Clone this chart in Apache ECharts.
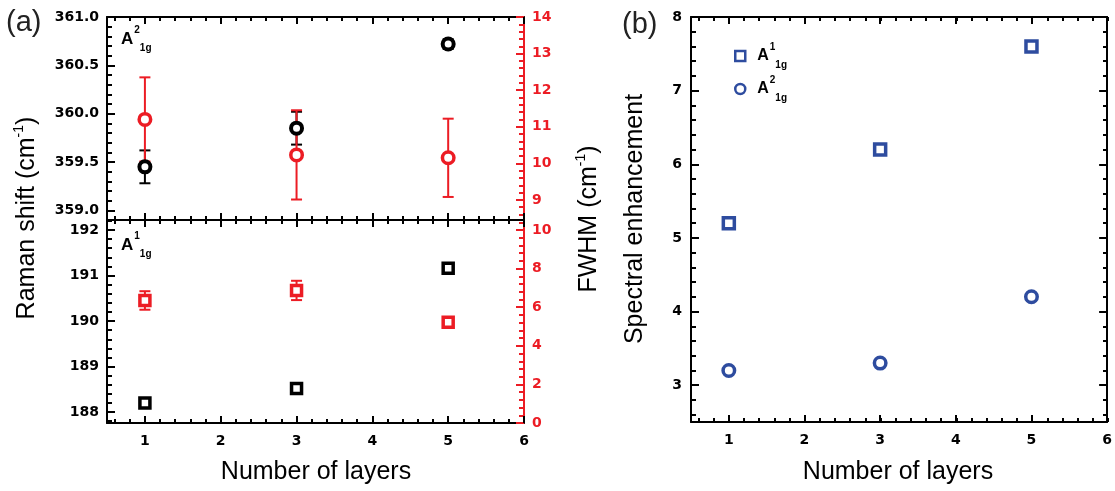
<!DOCTYPE html>
<html>
<head>
<meta charset="utf-8">
<script src="https://cdn.jsdelivr.net/npm/echarts@6/dist/echarts.min.js"></script>
<style>
html, body { margin: 0; padding: 0; background: #fff; }
#main { width: 1115px; height: 491px; }
</style>
</head>
<body>
<div id="main"></div>
<script>
// datos
var layers = [1, 3, 5];
var ramanA2g = [359.45, 359.85, 360.72];
var ramanA2gErr = [0.17, 0.17, 0.05];
var fwhmA2g = [11.2, 10.23, 10.15];
var fwhmA2gErr = [1.15, 1.22, 1.07];
var ramanA1g = [188.2, 188.52, 191.16];
var ramanA1gErr = [0.07, 0.08, 0.05];
var fwhmA1g = [6.35, 6.87, 5.22];
var fwhmA1gErr = [0.48, 0.5, 0.1];
var enhA1g = [5.2, 6.2, 7.6];
var enhA2g = [3.2, 3.3, 4.2];

// ticks
var xTicks = [1, 2, 3, 4, 5, 6];
var ramanTopTicks = [359.0, 359.5, 360.0, 360.5, 361.0];
var fwhmTopTicks = [9, 10, 11, 12, 13, 14];
var ramanBotTicks = [188, 189, 190, 191, 192];
var fwhmBotTicks = [0, 2, 4, 6, 8, 10];
var enhTicks = [3, 4, 5, 6, 7, 8];

var FONT = 'Liberation Sans';
var TICKFONT = 'DejaVu Sans';
var RED = '#ec1c24';
var BLUE = '#2e4c9f';

function minors(min, max, step) { // posiciones de ticks menores
    var out = [];
    var n0 = Math.ceil(min / step - 1e-9), n1 = Math.floor(max / step + 1e-9);
    for (var i = n0; i <= n1; i++) out.push(+(i * step).toFixed(4));
    return out;
}

function axis(grid, pos, min, max, ticks, opt) {
    opt = opt || {};
    var color = opt.color || '#000';
    return {
        type: 'value', gridIndex: grid, position: pos, min: min, max: max,
        splitLine: { show: false },
        axisLine: { show: opt.line !== false, onZero: false, lineStyle: { color: color, width: 2 } },
        axisTick: { show: true, inside: true, customValues: ticks, length: opt.len || 7, lineStyle: { color: color, width: 2 } },
        axisLabel: opt.labels ? {
            show: true, customValues: ticks, margin: opt.margin || 8,
            color: color, fontFamily: TICKFONT, fontWeight: 'bold', fontSize: 14,
            formatter: opt.fmt || function (v) { return String(Math.round(v)); }
        } : { show: false }
    };
}

var xAxes = [], yAxes = [];
function addX(a) { xAxes.push(a); return xAxes.length - 1; }
function addY(a) { yAxes.push(a); return yAxes.length - 1; }

var grids = [
    { left: 107, top: 17, width: 417, height: 203 },
    { left: 107, top: 17, width: 417, height: 203 },
    { left: 107, top: 220, width: 417, height: 203 },
    { left: 107, top: 220, width: 417, height: 203 },
    { left: 691, top: 17, width: 417, height: 405 },
    { left: 691, top: 17, width: 417, height: 405 }
];

// panel (a) arriba
var xTop = addX(axis(0, 'bottom', 0.5, 6, xTicks, { len: 7 }));
addX(axis(0, 'top', 0.5, 6, xTicks, { len: 7 }));
var yRamanTop = addY(axis(0, 'left', 358.9, 361, ramanTopTicks, { len: 8, labels: true, fmt: function (v) { return v.toFixed(1); } }));
var yFwhmTop = addY(axis(0, 'right', 8.45, 14, fwhmTopTicks, { len: 8, labels: true, color: RED }));
addX(axis(1, 'bottom', 0.5, 6, minors(0.5, 6, 0.2), { len: 4, line: false }));
addX(axis(1, 'top', 0.5, 6, minors(0.5, 6, 0.2), { len: 4, line: false }));
addY(axis(1, 'left', 358.9, 361, minors(358.9, 361, 0.1), { len: 5, line: false }));
addY(axis(1, 'right', 8.45, 14, minors(8.45, 14, 0.2), { len: 5, line: false, color: RED }));

// panel (a) abajo
var xBot = addX(axis(2, 'bottom', 0.5, 6, xTicks, { len: 7, labels: true, margin: 11 }));
addX(axis(2, 'top', 0.5, 6, xTicks, { len: 7 }));
var yRamanBot = addY(axis(2, 'left', 187.76, 192.22, ramanBotTicks, { len: 8, labels: true }));
var yFwhmBot = addY(axis(2, 'right', 0, 10.52, fwhmBotTicks, { len: 8, labels: true, color: RED }));
addX(axis(3, 'bottom', 0.5, 6, minors(0.5, 6, 0.2), { len: 4, line: false }));
addX(axis(3, 'top', 0.5, 6, minors(0.5, 6, 0.2), { len: 4, line: false }));
addY(axis(3, 'left', 187.76, 192.22, minors(187.76, 192.22, 0.2), { len: 5, line: false }));
addY(axis(3, 'right', 0, 10.52, minors(0, 10.52, 0.4), { len: 5, line: false, color: RED }));

// panel (b)
var xB = addX(axis(4, 'bottom', 0.5, 6, xTicks, { len: 7, labels: true, margin: 11 }));
addX(axis(4, 'top', 0.5, 6, xTicks, { len: 7 }));
var yB = addY(axis(4, 'left', 2.5, 8, enhTicks, { len: 8, labels: true, margin: 9 }));
addY(axis(4, 'right', 2.5, 8, enhTicks, { len: 8 }));
addX(axis(5, 'bottom', 0.5, 6, minors(0.5, 6, 0.2), { len: 4, line: false }));
addX(axis(5, 'top', 0.5, 6, minors(0.5, 6, 0.2), { len: 4, line: false }));
addY(axis(5, 'left', 2.5, 8, minors(2.5, 8, 0.2), { len: 5, line: false }));
addY(axis(5, 'right', 2.5, 8, minors(2.5, 8, 0.2), { len: 5, line: false }));

function errorSeries(xi, yi, vals, errs, color) {
    return {
        type: 'custom', xAxisIndex: xi, yAxisIndex: yi, z: 2, silent: true,
        data: layers.map(function (x, i) { return [x, vals[i] - errs[i], vals[i] + errs[i]]; }),
        renderItem: function (params, api) {
            var lo = api.coord([api.value(0), api.value(1)]);
            var hi = api.coord([api.value(0), api.value(2)]);
            var w = 5.5;
            var st = { stroke: color, lineWidth: 2 };
            return {
                type: 'group', children: [
                    { type: 'line', shape: { x1: lo[0], y1: lo[1], x2: hi[0], y2: hi[1] }, style: st },
                    { type: 'line', shape: { x1: lo[0] - w, y1: lo[1], x2: lo[0] + w, y2: lo[1] }, style: st },
                    { type: 'line', shape: { x1: hi[0] - w, y1: hi[1], x2: hi[0] + w, y2: hi[1] }, style: st }
                ]
            };
        }
    };
}

function markers(xi, yi, vals, symbol, size, color, bw, name) {
    return {
        type: 'scatter', name: name, xAxisIndex: xi, yAxisIndex: yi, z: 3, silent: true,
        symbol: symbol, symbolSize: size,
        itemStyle: { color: '#fff', borderColor: color, borderWidth: bw, opacity: 1 },
        data: layers.map(function (x, i) { return [x, vals[i]]; })
    };
}

var subRich = {
    a: { fontFamily: FONT, fontWeight: 'bold', fontSize: 17, lineHeight: 28, verticalAlign: 'middle', color: '#000' },
    sup: { fontFamily: FONT, fontWeight: 'bold', fontSize: 10, lineHeight: 11, verticalAlign: 'top', color: '#000', padding: [0, 0, 0, 1] },
    sub: { fontFamily: FONT, fontWeight: 'bold', fontSize: 10, lineHeight: 11, verticalAlign: 'bottom', color: '#000' }
};
var titleRich = function (color) {
    return {
        t: { fontFamily: FONT, fontSize: 25, lineHeight: 30, verticalAlign: 'middle', color: color },
        s: { fontFamily: FONT, fontSize: 14, lineHeight: 12, verticalAlign: 'top', color: color }
    };
};

var legendRich = JSON.parse(JSON.stringify(subRich));
legendRich.a.fontSize = 16;
legendRich.a.padding = [0, 0, 0, 7];

var option = {
    animation: false,
    backgroundColor: '#fff',
    grid: grids,
    xAxis: xAxes,
    yAxis: yAxes,
    legend: {
        data: ['A1g', 'A2g'], orient: 'vertical', left: 729, top: 37,
        itemWidth: 10, itemHeight: 10, itemGap: 5,
        itemStyle: { borderWidth: 2.5 },
        formatter: function (n) { return '{a|A}{sup|' + (n === 'A1g' ? '1' : '2') + '}{sub|1g}'; },
        textStyle: { rich: legendRich }
    },
    graphic: [
        { type: 'text', left: 6, top: 8, style: { text: '(a)', font: '29px "Liberation Sans"', fill: '#222' } },
        { type: 'text', left: 622, top: 10, style: { text: '(b)', font: '29px "Liberation Sans"', fill: '#222' } },
        { type: 'text', left: 121, top: 25, style: { text: '{a|A}{sup|2}{sub|1g}', rich: subRich } },
        { type: 'text', left: 121, top: 231, style: { text: '{a|A}{sup|1}{sub|1g}', rich: subRich } },
        { type: 'text', x: 27, y: 218, rotation: Math.PI / 2,
          style: { text: '{t|Raman shift (cm}{s|-1}{t|)}', rich: titleRich('#000'), align: 'center', verticalAlign: 'middle' } },
        { type: 'text', x: 589, y: 219, rotation: Math.PI / 2,
          style: { text: '{t|FWHM (cm}{s|-1}{t|)}', rich: titleRich(RED), align: 'center', verticalAlign: 'middle' } },
        { type: 'text', x: 635, y: 219, rotation: Math.PI / 2,
          style: { text: 'Spectral enhancement', font: '25px "Liberation Sans"', fill: '#000', align: 'center', verticalAlign: 'middle' } },
        { type: 'text', x: 316, y: 472,
          style: { text: 'Number of layers', font: '25px "Liberation Sans"', fill: '#000', align: 'center', verticalAlign: 'middle' } },
        { type: 'text', x: 898, y: 472,
          style: { text: 'Number of layers', font: '25px "Liberation Sans"', fill: '#000', align: 'center', verticalAlign: 'middle' } }
    ],
    series: [
        errorSeries(xTop, yRamanTop, ramanA2g, ramanA2gErr, '#000'),
        errorSeries(xTop, yFwhmTop, fwhmA2g, fwhmA2gErr, RED),
        markers(xTop, yRamanTop, ramanA2g, 'circle', 11, '#000', 4),
        markers(xTop, yFwhmTop, fwhmA2g, 'circle', 11.5, RED, 3.5),
        errorSeries(xBot, yRamanBot, ramanA1g, ramanA1gErr, '#000'),
        errorSeries(xBot, yFwhmBot, fwhmA1g, fwhmA1gErr, RED),
        markers(xBot, yRamanBot, ramanA1g, 'rect', 10, '#000', 3.5),
        markers(xBot, yFwhmBot, fwhmA1g, 'rect', 10, RED, 3.5),
        markers(xB, yB, enhA1g, 'rect', 11, BLUE, 3.5, 'A1g'),
        markers(xB, yB, enhA2g, 'circle', 11.5, BLUE, 3.5, 'A2g')
    ]
};

var chart = echarts.init(document.getElementById('main'), null, { renderer: 'canvas' });
chart.setOption(option);
</script>
</body>
</html>
